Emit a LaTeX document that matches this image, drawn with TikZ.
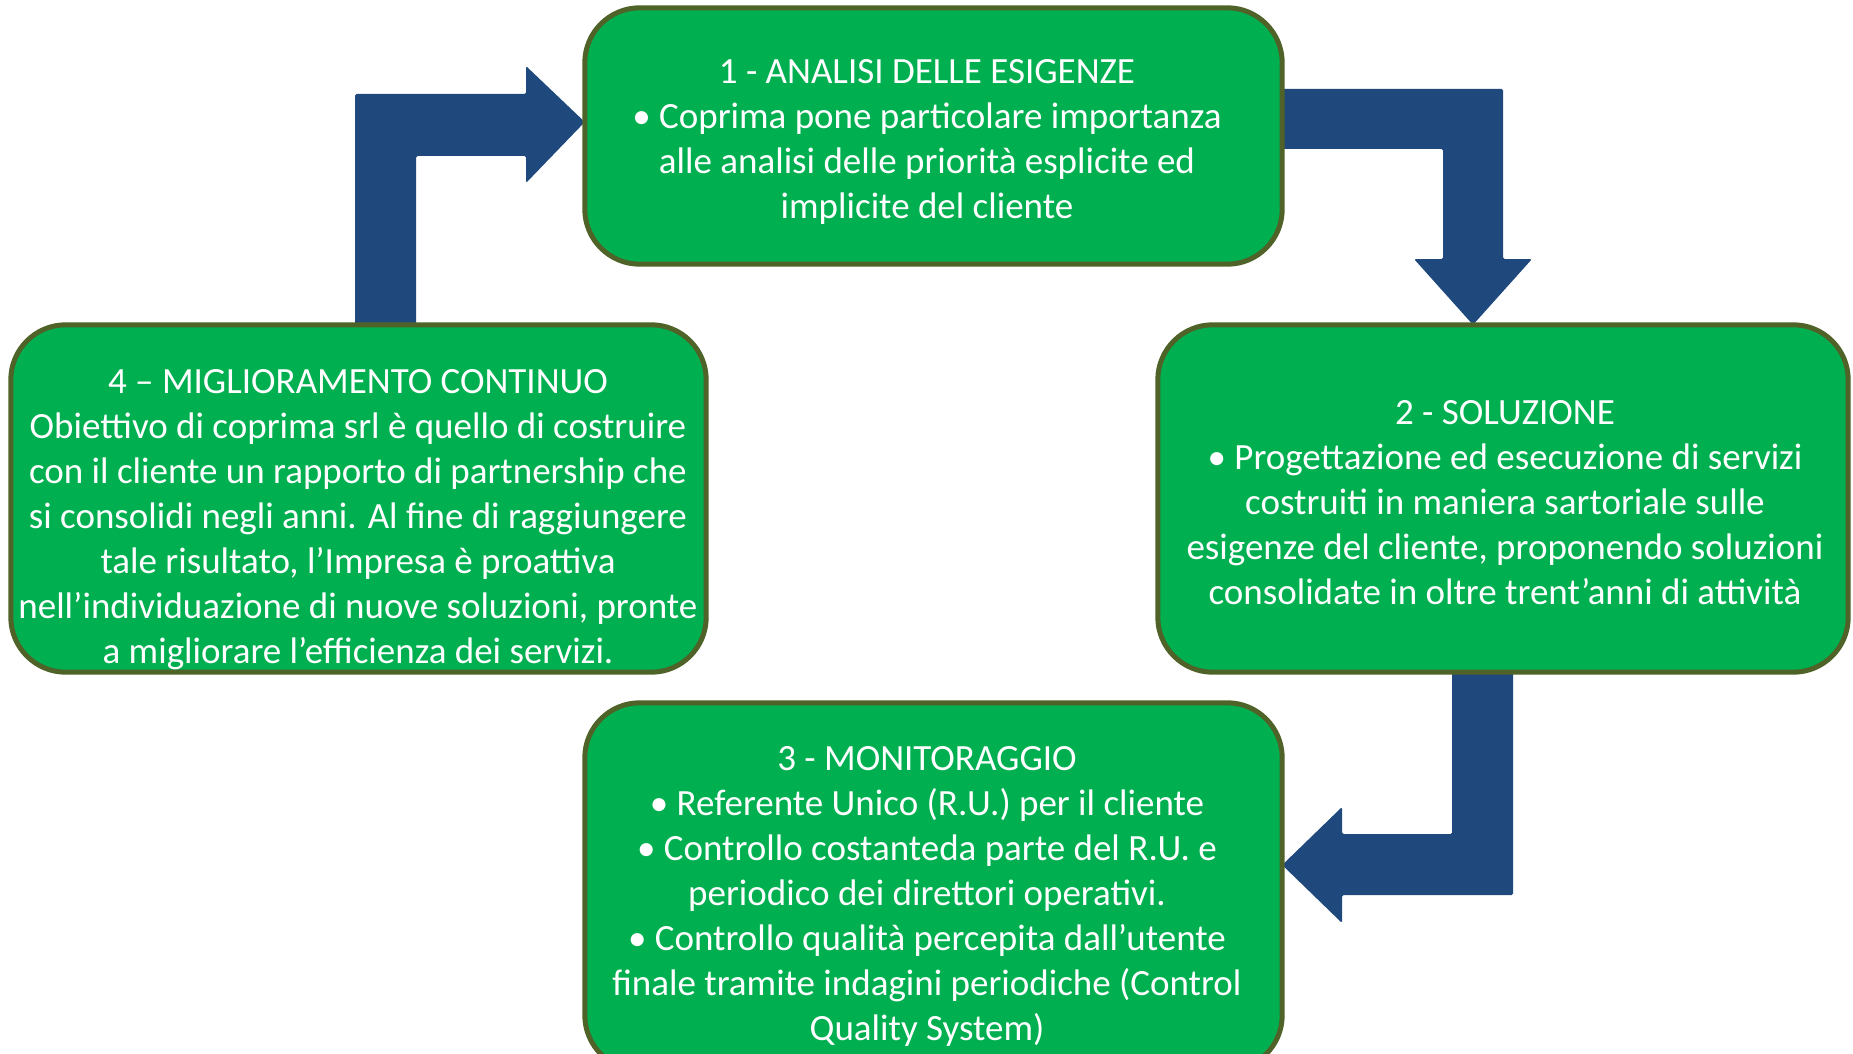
\documentclass[tikz,border=0pt]{standalone}
\usepackage{fontspec}
\setmainfont{Carlito}
\definecolor{boxfill}{HTML}{00B050}
\definecolor{boxedge}{HTML}{4F6228}
\definecolor{arrowblue}{HTML}{1F497D}
\begin{document}
\begin{tikzpicture}[x=1pt,y=-1pt,
  stagebox/.style={draw=boxedge, line width=5pt, fill=boxfill, rounded corners=55pt, inner sep=0pt},
  txt/.style={text=white, align=center, font=\fontsize{37}{45}\selectfont, inner sep=0pt},
  blockarrow/.style={fill=arrowblue, draw=none, rounded corners=1.5pt}]
\useasboundingbox (0,0) rectangle (1853,1054);
\clip (0,0) rectangle (1853,1054);

% box frames (named nodes used as anchors)
\path (933.5,136) node[minimum width=697pt, minimum height=256pt] (b1) {};
\path (1503,498.5) node[minimum width=690pt, minimum height=347pt] (b2) {};
\path (933.5,886.5) node[minimum width=697pt, minimum height=367pt] (b3) {};
\path (358.5,498.5) node[minimum width=695pt, minimum height=347pt] (b4) {};

% block arrows
\fill[blockarrow] (355,0 |- b4.north) -- (355,94) -- (526,94) -- (526,66)
  -- (b1.west |- 0,122) -- (526,183) -- (526,156) -- (416,156) -- (416,0 |- b4.north) -- cycle;
\fill[blockarrow] (b1.east |- 0,89) -- (1503,89) -- (1503,259) -- (1532,259)
  -- (1473,0 |- b2.north) -- (1414,259) -- (1443,259) -- (1443,149) -- (b1.east |- 0,149) -- cycle;
\fill[blockarrow] (1452,0 |- b2.south) -- (1513,0 |- b2.south) -- (1513,895) -- (1342,895) -- (1342,923)
  -- (b3.east |- 0,865) -- (1342,807) -- (1342,834) -- (1452,834) -- cycle;

% draw boxes on top
\draw[stagebox] (b1.north west) rectangle (b1.south east);
\draw[stagebox] (b2.north west) rectangle (b2.south east);
\draw[stagebox] (b3.north west) rectangle (b3.south east);
\draw[stagebox] (b4.north west) rectangle (b4.south east);

% texts
\node[txt] (t1) at (927,142) {1 - ANALISI DELLE ESIGENZE\\
• Coprima pone particolare importanza\\
alle analisi delle priorità esplicite ed\\
implicite del cliente};
\node[txt] (t2) at (1505,503) {2 - SOLUZIONE\\
• Progettazione ed esecuzione di servizi\\
costruiti in maniera sartoriale sulle\\
esigenze del cliente, proponendo soluzioni\\
consolidate in oltre trent’anni di attività};
\node[txt] (t3) at (927,896) {3 - MONITORAGGIO\\
• Referente Unico (R.U.) per il cliente\\
• Controllo costanteda parte del R.U. e\\
periodico dei direttori operativi.\\
• Controllo qualità percepita dall’utente\\
finale tramite indagini periodiche (Control\\
Quality System)};
\node[txt] (t4) at (358,520) {4 – MIGLIORAMENTO CONTINUO\\
Obiettivo di coprima srl è quello di costruire\\
con il cliente un rapporto di partnership che\\
si consolidi negli anni. Al fine di raggiungere\\
tale risultato, l’Impresa è proattiva\\
nell’individuazione di nuove soluzioni, pronte\\
a migliorare l’efficienza dei servizi.};
\end{tikzpicture}
\end{document}
